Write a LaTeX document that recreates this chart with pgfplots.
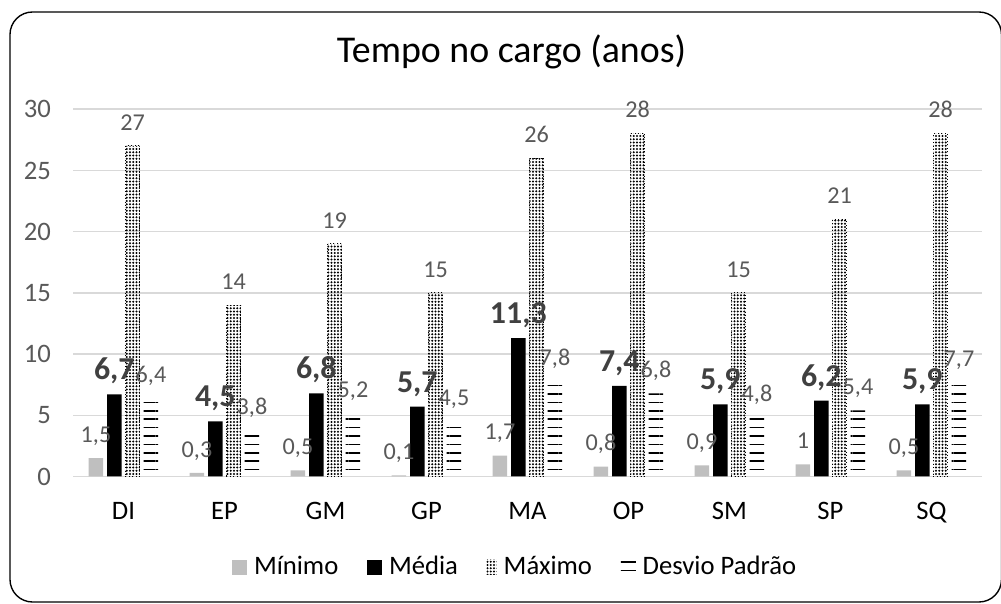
\documentclass[border=0pt]{standalone}
\usepackage{fontspec}
\setmainfont{Carlito}
\usepackage{pgfplots}
\pgfplotsset{compat=1.18}
\usepackage{pgfplotstable}
\usetikzlibrary{patterns.meta}
\definecolor{minc}{HTML}{BFBFBF}
\definecolor{lbl}{HTML}{595959}
\definecolor{lbldark}{HTML}{404040}
\definecolor{gridc}{HTML}{D9D9D9}

% categorias: DI EP GM GP MA OP SM SP SQ
\pgfplotstableread{
cat  mn   med   mx   sd
0    1.5  6.7   27   6.4
1    0.3  4.5   14   3.8
2    0.5  6.8   19   5.2
3    0.1  5.7   15   4.5
4    1.7  11.3  26   7.8
5    0.8  7.4   28   6.8
6    0.9  5.9   15   4.8
7    1    6.2   21   5.4
8    0.5  5.9   28   7.7
}\datatable

\pgfplotsset{
  sq legend/.style={legend image code/.code={\draw[##1,draw=none] (0bp,-3bp) rectangle (6bp,3bp);}},
  narrow legend/.style={legend image code/.code={\draw[##1,draw=none] (1bp,-3bp) rectangle (5bp,3bp);}},
  small lbl/.style={nodes near coords,
    every node near coord/.append style={anchor=base, yshift=6.3bp, inner sep=0pt,
      text=lbl, font=\fontsize{9.7}{11}\selectfont}},
}

\begin{document}
\begin{tikzpicture}
\useasboundingbox (0,0) rectangle (400.4bp,241.6bp);
\draw[line width=0.55bp, rounded corners=9bp] (4bp,0.8bp) rectangle (400.6bp,236.8bp);
\node[anchor=base, inner sep=0pt, font=\fontsize{15.2}{17}\selectfont] at (204.6bp,216.4bp) {Tempo no cargo (anos)};
\begin{axis}[
  at={(29.2bp,51bp)}, anchor=south west,
  scale only axis, width=363.6bp, height=146.9bp,
  xmin=-0.5, xmax=8.5, ymin=0, ymax=30,
  enlarge x limits=false, enlarge y limits=false,
  ybar, bar width=5.8bp, clip=false,
  xtick={0,...,8}, xticklabels={DI,EP,GM,GP,MA,OP,SM,SP,SQ},
  ytick={0,5,...,30},
  axis line style={draw=none},
  major tick length=0pt,
  ymajorgrids, grid style={gridc, line width=0.6bp},
  /pgf/number format/.cd, assume math mode=true, use comma, fixed, precision=1,
  /pgfplots/.cd,
  tick label style={font=\fontsize{10.7}{12}\selectfont},
  yticklabel style={text=lbl, xshift=-5.3bp},
  xticklabel style={text=black, text height=7bp, text depth=0pt, yshift=-6.6bp},
  legend columns=4,
  legend style={at={(0.488,-0.2465)}, anchor=center, draw=none, fill=none,
    font=\fontsize{10.7}{12}\selectfont,
    /tikz/every odd column/.append style={column sep=0.8bp},
    /tikz/every even column/.append style={column sep=9.5bp}},
]
\addplot[fill=minc, draw=none, bar shift=-11bp, small lbl, sq legend]
  table[x=cat, y=mn]{\datatable};
\addplot[fill=black, draw=none, bar shift=-3.67bp, nodes near coords,
  every node near coord/.append style={anchor=base, yshift=5.8bp, inner sep=0pt,
    text=lbldark, font=\fontsize{12.8}{14}\selectfont\bfseries}, sq legend]
  table[x=cat, y=med]{\datatable};
\addplot[pattern={Dots[distance=1.3bp, radius=0.45bp]}, pattern color=black,
  draw=black, densely dotted, line width=0.4bp, bar shift=3.67bp, small lbl, narrow legend]
  table[x=cat, y=mx]{\datatable};
\addplot[pattern={Lines[angle=0, distance=3.36bp, line width=0.7bp]}, pattern color=black,
  draw=none, bar shift=11bp, small lbl, sq legend]
  table[x=cat, y=sd]{\datatable};
\legend{Mínimo, Média, Máximo, Desvio Padrão}
\end{axis}
\end{tikzpicture}
\end{document}
